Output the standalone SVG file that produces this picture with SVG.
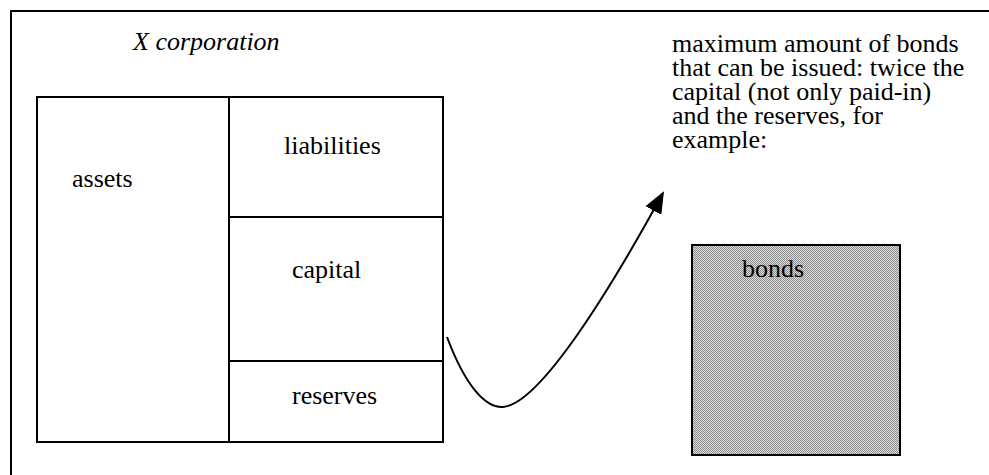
<svg xmlns="http://www.w3.org/2000/svg" width="989" height="475" viewBox="0 0 989 475">
<style>
.t{font-family:"Liberation Serif","DejaVu Serif","Times New Roman",serif;font-size:26px;fill:#000}
.i{font-style:italic}
.b{fill:none;stroke:#000;stroke-width:2}
.c{fill:none;stroke:#000;stroke-width:2}
</style>
<defs>
<pattern id="dots" width="2" height="2" patternUnits="userSpaceOnUse">
<rect width="2" height="2" fill="#dcdcdc"/>
<rect width="1" height="1" fill="#8c8c8c"/>
<rect x="1" y="1" width="1" height="1" fill="#8c8c8c"/>
</pattern>
<marker id="ah" viewBox="0 0 22 18" refX="20" refY="9" markerWidth="22" markerHeight="18" markerUnits="userSpaceOnUse" orient="auto">
<path d="M0,0 L22,9 L0,18 Z" fill="#000"/>
</marker>
</defs>
<rect id="frame" x="11" y="11" width="990" height="480" class="b"/>
<text class="t i" x="133" y="50">X corporation</text>
<g id="assets">
<rect x="37" y="97" width="192" height="345" class="b"/>
<text class="t" x="72" y="187">assets</text>
</g>
<g id="liabilities">
<rect x="229" y="97" width="214" height="120" class="b"/>
<text class="t" x="284" y="154">liabilities</text>
</g>
<g id="capital">
<rect x="229" y="217" width="214" height="144" class="b"/>
<text class="t" x="292" y="278">capital</text>
</g>
<g id="reserves">
<rect x="229" y="361" width="214" height="81" class="b"/>
<text class="t" x="292" y="404">reserves</text>
</g>
<g id="note">
<text class="t" x="672" y="52"><tspan x="672" y="52">maximum amount of bonds</tspan><tspan x="672" y="76">that can be issued: twice the</tspan><tspan x="672" y="100">capital (not only paid-in)</tspan><tspan x="672" y="124">and the reserves, for</tspan><tspan x="672" y="148">example:</tspan></text>
</g>
<g id="bonds">
<rect x="692" y="245" width="208" height="210" fill="url(#dots)" stroke="#000" stroke-width="2"/>
<text class="t" x="742" y="277">bonds</text>
</g>
<g id="connectors">
<path class="c" d="M447,337 C465,385 485,408 503,407 C540,404 610,290 663,193" marker-end="url(#ah)"/>
</g>
</svg>
